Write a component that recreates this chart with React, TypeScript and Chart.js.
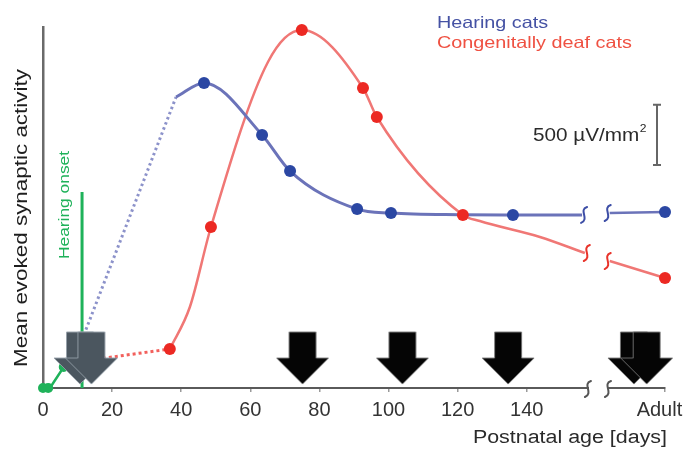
import React, { useEffect, useRef } from 'react';
import { Chart, registerables } from 'chart.js';

Chart.register(...registerables);

// ---- data (x = postnatal age in days, "Adult" placed at 180; y = mean evoked activity, µV/mm²) ----
const xTickValues = [0, 20, 40, 60, 80, 100, 120, 140, 180];
const adultDay = 180;
const breakLeftDay = 157.7;
const breakRightDay = 163.5;

const hearingDottedDays = [10.7, 38.5];
const hearingDottedVals = [357, 2418];
const hearingCurveDays = [38.5, 46.6, 63.4, 71.5, 90.9, 100.7, 121.5, 136.0, 156.0];
const hearingCurveVals = [2418, 2535, 2103, 1803, 1487, 1454, 1440, 1438, 1438];
const hearingAdultDays = [164, 180];
const hearingAdultVals = [1454, 1463];
const hearingDotDays = [46.6, 63.4, 71.5, 90.9, 100.7, 136.0, 180];
const hearingDotVals = [2535, 2103, 1803, 1487, 1454, 1438, 1463];

const deafDottedDays = [13.9, 36.7];
const deafDottedVals = [233, 324];
const deafCurveDays = [36.7, 42.5, 48.6, 65.1, 74.9, 92.6, 96.6, 121.5, 126.4, 143.8, 156.8];
const deafCurveVals = [324, 673, 1338, 2709, 2975, 2493, 2252, 1438, 1388, 1255, 1122];
const deafAdultDays = [164, 180];
const deafAdultVals = [1055, 914];
const deafDotDays = [36.7, 48.6, 74.9, 92.6, 96.6, 121.5, 180];
const deafDotVals = [324, 1338, 2975, 2493, 2252, 1438, 914];

const greenLineDays = [0, 2, 6, 11];
const greenLineVals = [0, 0, 175, 330];
const greenDotDays = [0, 1.5, 6];
const greenDotVals = [0, 0, 175];
const onsetDays = [11.3, 11.3];
const onsetVals = [0, 1629];

const grayArrowDays = [10.7, 14.0];
const blackArrowDays = [75.1, 104.0, 134.6, 171.0, 174.7];
const arrowLevel = 249;

const scaleBarBottom = 1853;
const scaleBarSize = 500;

const pts = (xs: number[], ys: number[]) => xs.map((x, i) => ({ x, y: ys[i] }));

const BLUE_DOT = '#2b47a3';
const BLUE_LINE = '#6b73b9';
const RED_DOT = '#ec2923';
const RED_LINE = '#f07775';
const GREEN = '#1fb25a';

function makeArrow(fill: string, stroke: string) {
  const c = document.createElement('canvas');
  c.width = 54;
  c.height = 54;
  const g = c.getContext('2d')!;
  g.beginPath();
  g.moveTo(13.5, 1);
  g.lineTo(40.5, 1);
  g.lineTo(40.5, 27);
  g.lineTo(53, 27);
  g.lineTo(27, 53);
  g.lineTo(1, 27);
  g.lineTo(13.5, 27);
  g.closePath();
  g.fillStyle = fill;
  g.fill();
  g.strokeStyle = stroke;
  g.lineWidth = 1;
  g.stroke();
  return c;
}

function stretchText(
  ctx: CanvasRenderingContext2D,
  text: string,
  x: number,
  y: number,
  size: number,
  color: string,
  sx: number,
  align: CanvasTextAlign,
  baseline: CanvasTextBaseline,
  rotate = false
) {
  ctx.save();
  ctx.translate(x, y);
  if (rotate) ctx.rotate(-Math.PI / 2);
  ctx.scale(sx, 1);
  ctx.font = `${size}px "Liberation Sans", Arial, sans-serif`;
  ctx.fillStyle = color;
  ctx.textAlign = align;
  ctx.textBaseline = baseline;
  ctx.fillText(text, 0, 0);
  const w = ctx.measureText(text).width * sx;
  ctx.restore();
  return w;
}

function squiggle(ctx: CanvasRenderingContext2D, x: number, y: number, color: string) {
  ctx.save();
  ctx.beginPath();
  ctx.moveTo(x + 3, y - 8);
  ctx.bezierCurveTo(x - 6, y - 5, x + 6, y + 4, x - 3, y + 8);
  ctx.strokeStyle = color;
  ctx.lineWidth = 2;
  ctx.lineCap = 'round';
  ctx.stroke();
  ctx.restore();
}

const decorPlugin = {
  id: 'decor',
  afterDraw(chart: any) {
    const ctx: CanvasRenderingContext2D = chart.ctx;
    const xs = chart.scales.x;
    const ys = chart.scales.y;
    const area = chart.chartArea;

    // axis break
    const bl = xs.getPixelForValue(breakLeftDay);
    const br = xs.getPixelForValue(breakRightDay);
    ctx.save();
    ctx.fillStyle = '#ffffff';
    ctx.fillRect(bl + 1, area.bottom - 3, br - bl - 2, 6);
    ctx.restore();
    squiggle(ctx, bl, area.bottom + 1, '#555');
    squiggle(ctx, br, area.bottom + 1, '#555');

    // series breaks
    squiggle(ctx, xs.getPixelForValue(hearingCurveDays[hearingCurveDays.length - 1]) + 2,
      ys.getPixelForValue(hearingCurveVals[hearingCurveVals.length - 1]), '#3d4ea6');
    squiggle(ctx, xs.getPixelForValue(hearingAdultDays[0]) - 2,
      ys.getPixelForValue(hearingAdultVals[0]), '#3d4ea6');
    squiggle(ctx, xs.getPixelForValue(deafCurveDays[deafCurveDays.length - 1]) + 2,
      ys.getPixelForValue(deafCurveVals[deafCurveVals.length - 1]), '#e8332a');
    squiggle(ctx, xs.getPixelForValue(deafAdultDays[0]) - 2,
      ys.getPixelForValue(deafAdultVals[0]), '#e8332a');

    // legend
    stretchText(ctx, 'Hearing cats', 437, 28, 16.5, '#4552a4', 1.2, 'left', 'alphabetic');
    stretchText(ctx, 'Congenitally deaf cats', 437, 48, 16.5, '#ef5142', 1.2, 'left', 'alphabetic');

    // scale bar
    const sbTop = ys.getPixelForValue(scaleBarBottom + scaleBarSize);
    const sbBot = ys.getPixelForValue(scaleBarBottom);
    const sbX = 657;
    ctx.save();
    ctx.strokeStyle = '#666';
    ctx.lineWidth = 2;
    ctx.beginPath();
    ctx.moveTo(sbX, sbTop);
    ctx.lineTo(sbX, sbBot);
    ctx.moveTo(sbX - 4, sbTop);
    ctx.lineTo(sbX + 4, sbTop);
    ctx.moveTo(sbX - 4, sbBot);
    ctx.lineTo(sbX + 4, sbBot);
    ctx.stroke();
    ctx.restore();
    const w = stretchText(ctx, '500 µV/mm', 533, 141, 18, '#2a2a2a', 1.15, 'left', 'alphabetic');
    stretchText(ctx, '2', 533 + w + 0.5, 132, 11, '#2a2a2a', 1.1, 'left', 'alphabetic');

    // axis titles
    stretchText(ctx, 'Postnatal age [days]', 667, 443, 18, '#2a2a2a', 1.19, 'right', 'alphabetic');
    stretchText(ctx, 'Mean evoked synaptic activity', 27, 218, 19, '#1e1e1e', 1.18, 'center', 'alphabetic', true);
    stretchText(ctx, 'Hearing onset', 69, 205, 15.5, GREEN, 1.12, 'center', 'alphabetic', true);
  },
};

export default function App() {
  const ref = useRef<HTMLCanvasElement>(null);

  useEffect(() => {
    const grayArrow = makeArrow('#4b565f', 'rgba(150,160,170,0.9)');
    const blackArrow = makeArrow('#050505', 'rgba(120,120,120,0.9)');

    const chart = new Chart(ref.current!, {
      type: 'line',
      data: {
        datasets: [
          {
            data: pts(blackArrowDays, blackArrowDays.map(() => arrowLevel)),
            showLine: false,
            pointStyle: blackArrow as any,
            pointRadius: 26,
            clip: false as any,
          },
          {
            data: pts(grayArrowDays, grayArrowDays.map(() => arrowLevel)),
            showLine: false,
            pointStyle: grayArrow as any,
            pointRadius: 26,
            clip: false as any,
          },
          {
            data: pts(hearingDotDays, hearingDotVals),
            showLine: false,
            pointRadius: 6,
            pointBackgroundColor: BLUE_DOT,
            pointBorderWidth: 0,
            clip: false as any,
          },
          {
            data: pts(deafDotDays, deafDotVals),
            showLine: false,
            pointRadius: 6,
            pointBackgroundColor: RED_DOT,
            pointBorderWidth: 0,
            clip: false as any,
          },
          {
            data: pts(greenDotDays, greenDotVals),
            showLine: false,
            pointRadius: 5,
            pointBackgroundColor: GREEN,
            pointBorderWidth: 0,
            clip: false as any,
          },
          {
            data: pts(hearingCurveDays, hearingCurveVals),
            borderColor: BLUE_LINE,
            borderWidth: 3,
            pointRadius: 0,
            cubicInterpolationMode: 'monotone',
            clip: false as any,
          },
          {
            data: pts(hearingAdultDays, hearingAdultVals),
            borderColor: BLUE_LINE,
            borderWidth: 2.5,
            pointRadius: 0,
            clip: false as any,
          },
          {
            data: pts(hearingDottedDays, hearingDottedVals),
            borderColor: '#8c92ca',
            borderWidth: 3,
            borderDash: [2.5, 3],
            pointRadius: 0,
          },
          {
            data: pts(deafCurveDays, deafCurveVals),
            borderColor: RED_LINE,
            borderWidth: 2.5,
            pointRadius: 0,
            cubicInterpolationMode: 'monotone',
            clip: false as any,
          },
          {
            data: pts(deafAdultDays, deafAdultVals),
            borderColor: RED_LINE,
            borderWidth: 2.5,
            pointRadius: 0,
            clip: false as any,
          },
          {
            data: pts(deafDottedDays, deafDottedVals),
            borderColor: '#f2605c',
            borderWidth: 3,
            borderDash: [3, 3],
            pointRadius: 0,
          },
          {
            data: pts(greenLineDays, greenLineVals),
            borderColor: GREEN,
            borderWidth: 2.5,
            pointRadius: 0,
          },
          {
            data: pts(onsetDays, onsetVals),
            borderColor: GREEN,
            borderWidth: 3,
            pointRadius: 0,
          },
        ],
      },
      options: {
        responsive: false,
        animation: false,
        devicePixelRatio: 1,
        layout: { autoPadding: false, padding: { left: 43, right: 20, top: 27, bottom: 22 } },
        plugins: { legend: { display: false }, tooltip: { enabled: false } },
        scales: {
          x: {
            type: 'linear',
            min: 0,
            max: adultDay,
            afterBuildTicks: (scale: any) => {
              scale.ticks = xTickValues.map((v) => ({ value: v }));
            },
            afterFit: (scale: any) => {
              scale.paddingLeft = 0;
              scale.paddingRight = 0;
            },
            ticks: {
              autoSkip: false,
              maxRotation: 0,
              padding: 6,
              color: '#333',
              font: { family: '"Liberation Sans", Arial, sans-serif', size: 20 },
              callback: (v: any) => (v === adultDay ? 'Adult  ' : String(v)),
            },
            grid: { drawOnChartArea: false, drawTicks: true, tickLength: 4, color: '#9a9a9a', lineWidth: 1.5 },
            border: { display: true, color: '#5a5a5a', width: 2 },
          },
          y: {
            type: 'linear',
            min: 0,
            max: 3000,
            ticks: { display: false },
            grid: { display: false, drawTicks: false },
            border: { display: true, color: '#6a6a6a', width: 2.5 },
          },
        },
      },
      plugins: [decorPlugin],
    });
    return () => chart.destroy();
  }, []);

  return (
    <div style={{ position: 'fixed', left: 0, top: 0, width: 685, height: 450, background: '#fff' }}>
      <canvas ref={ref} width={685} height={450} />
    </div>
  );
}
